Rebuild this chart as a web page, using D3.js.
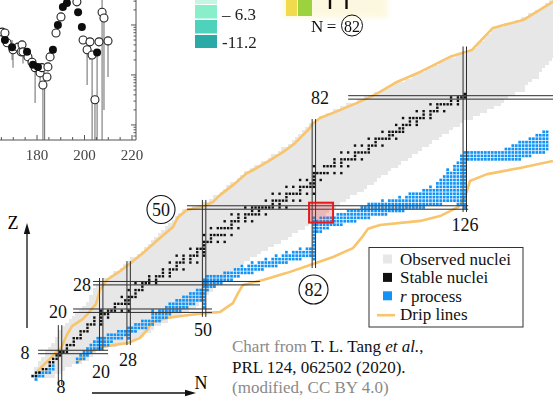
<!DOCTYPE html>
<html>
<head>
<meta charset="utf-8">
<script src="https://cdn.jsdelivr.net/npm/d3@7"></script>
<style>
  body { margin: 0; background: #fff; }
  svg { display: block; font-family: "Liberation Serif", "Times New Roman", serif; }
</style>
</head>
<body>
<svg id="chart" width="553" height="397"></svg>
<script>
// ---------- Nuclear chart data (N = neutrons, Z = protons) ----------

// Observed nuclei: lowest and highest N seen for each Z (index = Z, 0..110)
const observedMinN = [1,0,1,1,2,2,3,4,4,5, 6,7,7,8,8,9,10,11,12,13,
  14,15,16,17,17,18,18,19,20,21, 23,24,26,27,28,29,31,32,33,34,
  35,36,37,38,39,40,41,42,43,44, 47,50,52,53,55,56,57,58,60,61,
  62,64,65,67,69,70,72,73,75,76, 77,78,79,80,81,83,84,86,88,90,
  92,95,97,100,102,104,106,109,111,113, 115,117,119,121,124,127,129,130,131,132,
  133,134,135,138,141,143,145,147,149,150, 151];
const observedMaxN = [1,6,8,9,11,14,16,17,18,20, 24,27,30,32,34,35,37,39,40,43,
  45,47,48,49,50,51,52,53,54,55, 56,57,58,60,61,63,65,66,68,70,
  72,74,75,77,79,80,82,83,85,86, 88,89,91,92,94,96,97,99,100,101,
  103,104,106,107,109,110,112,113,115,116, 118,119,121,122,124,125,128,130,132,134,
  136,137,138,140,143,143,144,145,147,147, 148,149,150,151,152,153,154,155,156,157,
  158,159,160,160,160,160,160,160,160,160, 160];

// Stable nuclides: [Z, list of stable N]
const stableNuclides = [
  [1,[0,1]],[2,[1,2]],[3,[3,4]],[4,[5]],[5,[5,6]],[6,[6,7]],[7,[7,8]],[8,[8,9,10]],
  [9,[10]],[10,[10,11,12]],[11,[12]],[12,[12,13,14]],[13,[14]],[14,[14,15,16]],[15,[16]],
  [16,[16,17,18,20]],[17,[18,20]],[18,[18,20,22]],[19,[20,21,22]],[20,[20,22,23,24,26,28]],
  [21,[24]],[22,[24,25,26,27,28]],[23,[27,28]],[24,[26,28,29,30]],[25,[30]],[26,[28,30,31,32]],
  [27,[32]],[28,[30,32,33,34,36]],[29,[34,36]],[30,[34,36,37,38,40]],[31,[38,40]],
  [32,[38,40,41,42,44]],[33,[42]],[34,[40,42,43,44,46,48]],[35,[44,46]],[36,[42,44,46,47,48,50]],
  [37,[48,50]],[38,[46,48,49,50]],[39,[50]],[40,[50,51,52,54,56]],[41,[52]],
  [42,[50,52,53,54,55,56,58]],[44,[52,54,55,56,57,58,60]],[45,[58]],[46,[56,58,59,60,62,64]],
  [47,[60,62]],[48,[58,60,62,63,64,65,66,68]],[49,[64,66]],[50,[62,64,65,66,67,68,69,70,72,74]],
  [51,[70,72]],[52,[68,70,71,72,73,74,76,78]],[53,[74]],[54,[70,72,74,75,76,77,78,80,82]],
  [55,[78]],[56,[74,76,78,79,80,81,82]],[57,[81,82]],[58,[78,80,82,84]],[59,[82]],
  [60,[82,83,84,85,86,88,90]],[62,[82,85,86,87,88,90,92]],[63,[88,90]],[64,[88,90,91,92,93,94,96]],
  [65,[94]],[66,[90,92,94,95,96,97,98]],[67,[98]],[68,[94,96,98,99,100,102]],[69,[100]],
  [70,[98,100,101,102,103,104,106]],[71,[104,105]],[72,[102,104,105,106,107,108]],[73,[107,108]],
  [74,[106,108,109,110,112]],[75,[110,112]],[76,[108,110,111,112,113,114,116]],[77,[114,116]],
  [78,[112,114,116,117,118,120]],[79,[118]],[80,[116,118,119,120,121,122,124]],[81,[122,124]],
  [82,[122,124,125,126]],[83,[126]]
];

// r-process nuclei: [N, lowest Z, highest Z]
const rProcessColumns = [
  [1,0,1],[2,1,2],[3,1,2],[4,2,2],[5,2,3],[6,3,4],
  [13,5,6],[14,6,7],[15,6,8],[16,7,9],
  [17,8,10],[18,9,11],[19,9,12],[20,9,12],[21,10,12],[22,10,13],
  [23,11,13],[24,12,13],[25,12,14],[26,12,14],[27,13,14],[28,12,15],
  [29,14,15],[30,14,16],[31,15,16],[32,15,17],[33,15,17],
  [34,16,17],[35,16,20],[36,17,19],[37,17,20],[38,18,20],[39,18,21],
  [40,19,22],[41,20,22],[42,20,23],[43,20,23],[44,21,24],[45,21,24],[46,22,25],[47,22,25],[48,23,26],[49,23,26],
  [50,21,29],
  [51,26,30],[52,27,30],[53,27,30],[54,28,30],[55,28,30],[56,29,31],[57,29,31],[58,29,31],
  [59,30,32],[60,30,32],[61,31,33],[62,31,32],[63,31,33],[64,31,34],[65,32,33],[66,32,34],[67,32,34],[68,33,35],
  [69,33,34],[70,33,35],[71,33,36],[72,34,35],[73,34,36],[74,34,37],[75,35,36],[76,35,37],[77,35,37],[78,35,38],
  [79,36,37],[80,36,38],[81,36,38],
  [82,35,47],
  [83,43,46],[84,43,47],[85,44,47],[86,44,47],
  [87,45,47],[88,45,47],[89,45,48],[90,45,48],[91,46,48],[92,46,49],[93,46,49],[94,46,49],[95,47,49],[96,47,50],[97,47,50],
  [98,47,51],[99,48,51],[100,48,51],[101,48,51],[102,48,52],[103,48,51],[104,49,52],[105,49,52],[106,49,52],[107,49,53],[108,49,52],
  [109,50,53],[110,50,54],[111,50,54],[112,50,54],[113,50,54],
  [114,50,55],[115,51,55],[116,51,56],[117,51,55],[118,51,57],[119,51,58],[120,52,59],[121,52,61],[122,52,60],[123,52,62],[124,51,63],[125,51,65],
  [126,50,66],
  [127,64,66],[128,64,66],[129,64,66],[130,64,66],[131,64,66],[132,64,66],[133,64,66],[134,64,66],[135,64,66],[136,64,66],[137,64,66],
  [138,64,67],[139,64,67],[140,64,68],[141,64,68],[142,64,69],[143,65,69],[144,65,69],[145,65,70],[146,66,70],[147,66,71],[148,66,71],[149,66,72],[150,67,72]
];

// Drip lines as [N, Z] points
const protonDripLine = [[1.5,2.5],[4,5],[6.5,7.5],[8.5,9.5],[10,13],[11.5,15.5],[14.5,17.5],[16,19],[18.5,22],
  [19.6,26],[21.7,29],[25.5,31.5],[28.8,34],[32.2,36.8],[36.3,40.4],[40.9,44.3],[42.4,47.2],[45,49.3],
  [49.7,50.3],[52.6,51.6],[54.6,53.6],[58.4,56.5],[62.5,60],[64.3,60.9],[68.3,63.2],[73,66.1],[76.5,68.7],
  [80.3,72.5],[81.8,74.5],[83.8,76],[89.6,78.3],[94.6,80.4],[98.4,82.1],[101.3,83.6],[106.2,86.5],[113,89.4],
  [121.7,93.8],[128.1,95.8],[134.2,102.2],[143,104.5],[152,110]];
const neutronDripLine = [[13.2,5.1],[16.2,7.7],[19.7,9.2],[23.4,10.0],[27.8,10.6],[31.3,12.1],[33.4,14.4],
  [34.8,16.7],[39.2,17.9],[45,18.7],[50.3,19.3],[54.6,19.6],[58.4,22.2],[59.9,25.1],[61.3,27.5],[67.2,28.9],
  [74.2,31.0],[80.9,33.3],[87.6,35.6],[93.4,38.2],[96.3,41.7],[97.8,43.8],[101.3,44.9],[113,46.1],[118.8,47.5],
  [124.0,50.1],[126.1,53.1],[127.5,57.7],[132.5,59.7],[142.1,61.5],[151.7,63.5]];

// Magic numbers with the stretch of each guide line
const magicN = [[8,-1.6,15.8],[20,8.4,29.5],[28,10,34.4],[50,18.2,52.2],[82,32.4,75.7],[126,48.7,96.8]];
const magicZ = [[8,1.6,22],[20,11.8,52.3],[28,17.6,66.3],[50,45,127],[82,92,153]];

// Highlighted region near N = 82, Z = 50
const focusBox = { n0: 80.6, n1: 87.6, z0: 45.6, z1: 51.4 };

// Inset (top-left): abscissa and log-scale ordinate
const insetTicks = [180, 200, 220];
const insetOpen = [[165.3,0.72],[166.5,0.69],[167.4,0.44],[169.9,0.32],[172,0.36],[173.3,0.29],[173.7,0.40],
  [174.1,0.29],[176.2,0.23],[177.9,0.18],[179.2,0.14],[181.3,0.11],[182.1,0.14],[182.5,0.063],[184.2,0.091],
  [184.6,0.145],[185.5,0.23],[188,0.69],[190.1,1.45],[196.8,2.9],[199.4,0.5],[201.1,0.32],[202.3,0.46],
  [203.2,0.25],[204.4,0.032],[206.1,0.46],[207.4,1.8],[208.2,1.38],[209.9,0.48]];
const insetFilled = [[166.5,0.5],[169.5,0.36],[175.8,0.29],[178.3,0.16],[180.4,0.145],[186.7,0.32],
  [188.8,1.0],[190.9,2.3],[192.6,2.75],[197.3,1.8],[198.9,0.91],[205.3,0.28]];
const insetErrors = [[169.5,0.2,0.5],[169.9,0.14,0.36],[174.1,0.17,0.32],[179.2,0.0275,0.126],[181.3,0.063,0.11],
  [182.5,0.005,0.063],[183.2,0.005,0.1],[201.1,0.063,0.32],[202.3,0.2,0.46],[203.2,0.005,0.25],
  [204.4,0.005,0.032],[205.3,0.005,0.28],[207.4,0.005,3.16],[208.2,0.02,1.38],[209.9,0.091,0.48]];

// Colour key fragments at the top
const keyColours = ["#c4f6e3", "#88efca", "#4fd2bc", "#2aaaa7"];
const keyLabels = ["\u2013 6.3", "-11.2"];

// ---------- Drawing ----------
const svg = d3.select("#chart");
const x = d3.scaleLinear().domain([0, 150]).range([32.6, 32.6 + 150 * 3.43]);
const y = d3.scaleLinear().domain([0, 110]).range([379.5, 379.5 - 110 * 3.44]);
const ch = y(0) - y(1);

const defs = svg.append("defs");
defs.append("filter").attr("id", "soft").append("feGaussianBlur").attr("stdDeviation", 0.45);
defs.append("filter").attr("id", "haze").append("feGaussianBlur").attr("stdDeviation", 2.5);

// Observed nuclei band
svg.append("g").attr("shape-rendering", "crispEdges")
  .selectAll("rect").data(d3.range(observedMinN.length)).join("rect")
  .attr("x", z => x(observedMinN[z] - 0.5))
  .attr("width", z => x(observedMaxN[z] + 0.5) - x(observedMinN[z] - 0.5))
  .attr("y", z => y(z + 0.5))
  .attr("height", ch)
  .attr("fill", "#e7e7e7");

// Drip lines
const dripPath = d3.line().x(d => x(d[0])).y(d => y(d[1]));
svg.append("g").selectAll("path").data([protonDripLine, neutronDripLine]).join("path")
  .attr("d", dripPath).attr("fill", "none")
  .attr("stroke", "#f8c46c").attr("stroke-width", 2.6).attr("stroke-linejoin", "round");

// r-process nuclei
const rCells = rProcessColumns.flatMap(([n, z0, z1]) => d3.range(z0, z1 + 1).map(z => [n, z]));
const rs = 2.7;
svg.append("g").selectAll("rect").data(rCells).join("rect")
  .attr("x", d => x(d[0]) - rs / 2).attr("y", d => y(d[1]) - rs / 2)
  .attr("width", rs).attr("height", rs).attr("fill", "#1493f7");

// Stable nuclei
const sCells = stableNuclides.flatMap(([z, ns]) => ns.map(n => [n, z]));
const ss = 2.4;
svg.append("g").selectAll("rect").data(sCells).join("rect")
  .attr("x", d => x(d[0]) - ss / 2).attr("y", d => y(d[1]) - ss / 2)
  .attr("width", ss).attr("height", ss).attr("fill", "#111");

// Magic-number guide lines (pairs bracketing the row/column)
const guides = svg.append("g").attr("stroke", "#2c2c2c").attr("stroke-width", 1);
magicN.forEach(([n, z0, z1]) => {
  [-0.5, 0.5].forEach(o => guides.append("line")
    .attr("x1", x(n + o)).attr("x2", x(n + o)).attr("y1", y(z1)).attr("y2", y(z0)));
});
magicZ.forEach(([z, n0, n1]) => {
  [-0.5, 0.5].forEach(o => guides.append("line")
    .attr("y1", y(z + o)).attr("y2", y(z + o)).attr("x1", x(n0)).attr("x2", x(n1)));
});

// Highlight box
svg.append("rect")
  .attr("x", x(focusBox.n0)).attr("y", y(focusBox.z1))
  .attr("width", x(focusBox.n1) - x(focusBox.n0)).attr("height", y(focusBox.z0) - y(focusBox.z1))
  .attr("fill", "rgba(240,60,60,0.28)").attr("stroke", "#e31b1b").attr("stroke-width", 2);

// Magic-number labels
const lab = svg.append("g").attr("font-size", 18).attr("fill", "#111")
  .attr("text-anchor", "middle").attr("dominant-baseline", "central");
const plainLabels = [
  ["8", 25, 353], ["20", 58, 312], ["28", 82, 285], ["82", 320, 98],
  ["8", 61, 386.5], ["20", 101, 372], ["28", 128, 360], ["50", 203, 330], ["126", 465, 225]
];
plainLabels.forEach(([t, px, py]) => lab.append("text").attr("x", px).attr("y", py).text(t));
const circledLabels = [["50", 161, 209.5, 14], ["82", 313.5, 289.5, 14.5]];
circledLabels.forEach(([t, px, py, r]) => {
  lab.append("circle").attr("cx", px).attr("cy", py).attr("r", r)
    .attr("fill", "#fff").attr("stroke", "#111").attr("stroke-width", 1.1);
  lab.append("text").attr("x", px).attr("y", py + 0.5).text(t);
});

// Axis arrows
const arrows = svg.append("g").attr("stroke", "#111").attr("fill", "#111");
arrows.append("line").attr("x1", 27).attr("y1", 328).attr("x2", 27).attr("y2", 232).attr("stroke-width", 1.3);
arrows.append("path").attr("d", "M27,223 L23.8,234 L30.2,234 Z").attr("stroke", "none");
arrows.append("line").attr("x1", 92).attr("y1", 393).attr("x2", 186).attr("y2", 393).attr("stroke-width", 1.3);
arrows.append("path").attr("d", "M196,393 L185,389.8 L185,396.2 Z").attr("stroke", "none");
svg.append("text").attr("x", 13).attr("y", 229).attr("font-size", 18).attr("text-anchor", "middle").text("Z");
svg.append("text").attr("x", 201).attr("y", 389).attr("font-size", 18).attr("text-anchor", "middle").text("N");

// Legend
const lg = svg.append("g");
lg.append("rect").attr("x", 369).attr("y", 247.5).attr("width", 154).attr("height", 79.5)
  .attr("fill", "#fff").attr("stroke", "#333").attr("stroke-width", 1);
const legendItems = [
  { label: "Observed nuclei", colour: "#e7e7e7", kind: "box" },
  { label: "Stable nuclei", colour: "#111", kind: "box" },
  { label: "process", colour: "#1493f7", kind: "box", italic: "r" },
  { label: "Drip lines", colour: "#f8c46c", kind: "line" }
];
legendItems.forEach((it, i) => {
  const by = 265 + i * 18.4;
  if (it.kind === "box") {
    lg.append("rect").attr("x", 383).attr("y", by - 10.5).attr("width", 9).attr("height", 9).attr("fill", it.colour);
  } else {
    lg.append("line").attr("x1", 377).attr("x2", 395).attr("y1", by - 5).attr("y2", by - 5)
      .attr("stroke", it.colour).attr("stroke-width", 2.6);
  }
  const t = lg.append("text").attr("x", 400).attr("y", by).attr("font-size", 17).attr("fill", "#111");
  if (it.italic) {
    t.append("tspan").attr("font-style", "italic").text(it.italic);
    t.append("tspan").text(" " + it.label);
  } else t.text(it.label);
});

// Credit
const cr = svg.append("g").attr("font-size", 17);
const l1 = cr.append("text").attr("x", 232).attr("y", 352);
l1.append("tspan").attr("fill", "#8a8a8a").text("Chart from ");
l1.append("tspan").attr("fill", "#111").text("T. L. Tang ");
l1.append("tspan").attr("fill", "#111").attr("font-style", "italic").text("et al.");
l1.append("tspan").attr("fill", "#111").text(",");
cr.append("text").attr("x", 232).attr("y", 372.5).attr("fill", "#111").text("PRL 124, 062502 (2020).");
cr.append("text").attr("x", 232).attr("y", 393).attr("fill", "#8a8a8a").text("(modified, CC BY 4.0)");

// ---------- Inset (top-left) ----------
const inset = svg.append("g").attr("filter", "url(#soft)");
const ix = d3.scaleLinear().domain([180, 220]).range([37, 132]);
const iy = d3.scaleLog().domain([0.005, 3.16]).range([140, 0]);

inset.append("g").selectAll("line").data(insetErrors).join("line")
  .attr("x1", d => ix(d[0])).attr("x2", d => ix(d[0]))
  .attr("y1", d => iy(d[1])).attr("y2", d => iy(d[2]))
  .attr("stroke", "#777").attr("stroke-width", 1.1);

inset.append("g").selectAll("circle").data(insetOpen).join("circle")
  .attr("cx", d => ix(d[0])).attr("cy", d => iy(d[1])).attr("r", 4)
  .attr("fill", "#fff").attr("stroke", "#222").attr("stroke-width", 1.1);
inset.append("g").selectAll("circle").data(insetFilled).join("circle")
  .attr("cx", d => ix(d[0])).attr("cy", d => iy(d[1])).attr("r", 4)
  .attr("fill", "#111");

const ax = inset.append("g").attr("stroke", "#555").attr("stroke-width", 1);
ax.append("line").attr("x1", 0).attr("x2", 136).attr("y1", 140).attr("y2", 140);
ax.append("line").attr("x1", 136).attr("x2", 136).attr("y1", 0).attr("y2", 140);
d3.range(165, 221, 5).forEach(v => {
  const major = insetTicks.includes(v);
  ax.append("line").attr("x1", ix(v)).attr("x2", ix(v)).attr("y1", 140).attr("y2", 140 - (major ? 5 : 3));
});
[0.01, 0.1, 1].forEach(dec => {
  d3.range(1, 10).forEach(m => {
    const v = dec * m;
    if (v <= 0.005 || v >= 3.16) return;
    ax.append("line").attr("x1", 136).attr("x2", 136 - (m === 1 ? 5 : 2.5)).attr("y1", iy(v)).attr("y2", iy(v));
  });
});
[0.006, 0.007, 0.008, 0.009].forEach(v => {
  ax.append("line").attr("x1", 136).attr("x2", 133.5).attr("y1", iy(v)).attr("y2", iy(v));
});
inset.append("g").selectAll("text").data(insetTicks).join("text")
  .attr("x", d => ix(d)).attr("y", 160).attr("text-anchor", "middle")
  .attr("font-size", 15).attr("fill", "#444").text(d => d);

// ---------- Colour key fragments (top) ----------
const key = svg.append("g").attr("filter", "url(#soft)");
const keyRows = [[0, 4], [5, 18.5], [20, 33.5], [35, 48]];
keyRows.forEach(([y0, y1], i) => key.append("rect")
  .attr("x", 195).attr("y", y0).attr("width", 22).attr("height", y1 - y0).attr("fill", keyColours[i]));
key.append("text").attr("x", 222).attr("y", 20).attr("font-size", 17).attr("fill", "#222").text(keyLabels[0]);
key.append("text").attr("x", 222).attr("y", 48).attr("font-size", 17).attr("fill", "#222").text(keyLabels[1]);

svg.append("rect").attr("x", 283).attr("y", -6).attr("width", 105).attr("height", 24)
  .attr("fill", "#fbf3c8").attr("opacity", 0.55).attr("filter", "url(#haze)");
const n82 = svg.append("g").attr("filter", "url(#soft)");
n82.append("rect").attr("x", 286).attr("y", 0).attr("width", 11).attr("height", 16).attr("fill", "#f1da4e");
n82.append("rect").attr("x", 298).attr("y", 0).attr("width", 14).attr("height", 16).attr("fill", "#9bd23c");
[330, 346.5].forEach(px => n82.append("rect").attr("x", px - 1.2).attr("y", 0).attr("width", 2.4).attr("height", 9).attr("fill", "#111"));
n82.append("text").attr("x", 311).attr("y", 32).attr("font-size", 17).attr("fill", "#111").text("N\u2009=");
n82.append("circle").attr("cx", 352).attr("cy", 25.5).attr("r", 10.5).attr("fill", "none").attr("stroke", "#111").attr("stroke-width", 1);
n82.append("text").attr("x", 352).attr("y", 26).attr("font-size", 16).attr("fill", "#111")
  .attr("text-anchor", "middle").attr("dominant-baseline", "central").text("82");
</script>
</body>
</html>
